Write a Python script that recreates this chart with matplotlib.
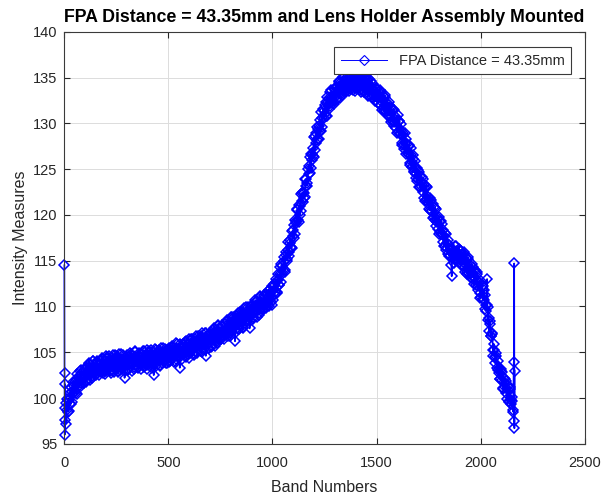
import numpy as np
import matplotlib
matplotlib.use("Agg")
import matplotlib.pyplot as plt

plt.rcParams['font.family'] = ['Liberation Sans', 'DejaVu Sans']
plt.rcParams['path.simplify'] = False

# first few bands (spikes at the start of the sweep)
x_start = [1, 2, 3, 4]
y_start = [114.5, 102.7, 96.0, 101.5]

# bands 5, 10, ..., 2155
x_a = list(range(5, 2156, 5))
y_a = [
    98.9, 97.2, 99.9, 98.5, 99.8, 99.3, 101.2, 99.6, 101.3, 100.8,
    102.0, 100.4, 101.9, 101.1, 102.9, 101.6, 102.4, 101.6, 103.1, 102.3,
    101.8, 103.3, 102.7, 103.7, 102.0, 103.3, 102.4, 104.0, 102.7, 103.3,
    102.5, 103.9, 103.0, 104.1, 103.0, 104.3, 102.7, 103.7, 102.9, 104.6,
    104.3, 103.2, 104.6, 102.9, 103.9, 103.1, 104.7, 102.8, 104.3, 103.6,
    104.6, 102.8, 104.1, 103.1, 104.8, 103.4, 104.0, 102.2, 104.5, 103.6,
    103.1, 104.5, 103.8, 104.8, 103.0, 104.3, 103.4, 105.0, 103.6, 104.2,
    103.3, 104.7, 103.8, 104.8, 103.8, 105.1, 103.4, 104.4, 103.6, 105.2,
    104.9, 103.8, 105.2, 103.5, 104.5, 102.5, 105.4, 103.5, 104.9, 104.2,
    105.3, 103.5, 104.8, 103.8, 105.5, 104.1, 104.7, 103.8, 105.3, 104.4,
    103.9, 105.3, 104.6, 105.6, 103.9, 105.2, 104.3, 105.9, 104.5, 105.1,
    103.3, 105.7, 104.9, 105.9, 104.8, 106.1, 104.5, 105.5, 104.8, 106.4,
    106.2, 105.1, 106.5, 104.8, 105.9, 105.1, 106.8, 104.9, 106.4, 105.7,
    106.8, 105.0, 106.4, 105.4, 107.1, 104.6, 106.4, 105.5, 107.0, 106.1,
    105.6, 107.0, 106.4, 107.5, 105.7, 107.1, 106.2, 107.9, 106.5, 107.2,
    106.4, 107.8, 107.0, 108.1, 107.1, 108.4, 106.8, 107.9, 107.1, 108.8,
    108.6, 107.6, 108.9, 106.2, 108.4, 107.7, 109.3, 107.5, 109.0, 108.4,
    109.4, 107.7, 109.1, 108.2, 109.9, 108.6, 109.2, 107.6, 109.9, 109.1,
    108.6, 110.1, 109.5, 110.6, 108.9, 110.3, 109.3, 111.0, 109.7, 110.4,
    109.6, 111.1, 110.3, 111.4, 110.3, 111.7, 110.1, 111.2, 110.5, 112.2,
    112.2, 111.4, 113.0, 111.6, 112.9, 112.4, 114.3, 112.7, 114.4, 114.0,
    115.4, 114.0, 115.6, 115.0, 117.0, 116.0, 116.9, 116.4, 118.2, 117.7,
    117.5, 119.4, 119.1, 120.6, 119.2, 121.0, 120.4, 122.4, 121.4, 122.4,
    122.0, 123.9, 123.5, 125.0, 124.5, 126.3, 125.1, 126.7, 126.4, 128.5,
    128.6, 127.9, 129.6, 128.3, 129.7, 129.2, 131.2, 129.6, 131.4, 131.0,
    132.3, 130.8, 132.3, 131.6, 133.4, 132.2, 132.9, 132.2, 133.7, 132.9,
    132.5, 134.0, 133.4, 134.5, 132.8, 134.2, 133.3, 135.0, 133.6, 134.3,
    133.4, 134.9, 134.0, 135.1, 134.0, 135.3, 133.6, 134.7, 133.9, 135.5,
    135.2, 134.1, 135.4, 133.6, 134.6, 133.8, 135.3, 133.4, 134.8, 134.0,
    134.9, 133.0, 134.2, 133.1, 134.6, 133.1, 133.6, 132.6, 133.9, 132.9,
    132.2, 133.4, 132.6, 133.4, 131.5, 132.6, 131.5, 132.9, 131.4, 131.8,
    130.8, 132.0, 130.9, 131.7, 130.4, 131.6, 129.7, 130.5, 129.5, 130.9,
    130.3, 128.9, 129.9, 127.9, 128.7, 127.6, 128.9, 126.7, 127.8, 126.8,
    127.6, 125.5, 126.5, 125.2, 126.5, 124.8, 125.1, 124.0, 125.1, 123.9,
    123.0, 124.2, 123.2, 123.9, 121.9, 122.9, 121.6, 123.0, 121.3, 121.6,
    120.5, 121.6, 120.4, 121.2, 119.8, 120.8, 118.8, 119.6, 118.5, 119.8,
    119.3, 117.9, 119.0, 117.0, 117.7, 116.6, 117.9, 115.7, 116.7, 115.6,
    116.3, 113.3, 115.7, 114.8, 116.6, 115.3, 115.9, 115.0, 116.3, 115.2,
    114.5, 115.7, 114.9, 115.7, 113.8, 114.9, 113.8, 115.2, 113.7, 114.1,
    113.1, 114.3, 113.2, 114.0, 112.7, 113.8, 111.8, 112.6, 111.5, 112.8,
    112.2, 110.8, 111.8, 109.7, 110.2, 113.0, 109.9, 107.3, 108.1, 106.8,
    107.1, 104.6, 105.3, 103.8, 104.9, 103.1, 103.3, 102.1, 103.2, 102.0,
    101.1, 102.2, 101.2, 101.9, 99.9, 100.9, 99.7, 101.0, 99.4, 99.7,
    98.5,
]

# bands 3, 8, ..., 2153
x_b = list(range(3, 2154, 5))
y_b = [
    97.6, 99.5, 98.7, 99.8, 98.6, 100.6, 99.4, 100.7, 101.7, 100.5,
    101.8, 100.5, 102.6, 101.6, 102.4, 101.4, 103.1, 102.0, 101.6, 103.2,
    103.4, 102.0, 103.1, 103.8, 102.5, 103.6, 102.2, 104.1, 103.0, 103.6,
    102.6, 104.1, 102.9, 102.5, 104.0, 102.8, 104.4, 103.2, 104.0, 102.6,
    103.0, 104.5, 103.4, 104.2, 102.7, 104.4, 102.9, 103.9, 104.7, 103.3,
    104.4, 102.9, 104.8, 103.6, 104.3, 103.2, 104.7, 103.5, 103.0, 104.5,
    104.7, 103.2, 104.2, 104.9, 103.5, 104.6, 103.2, 105.1, 103.9, 104.5,
    103.4, 104.9, 103.7, 103.2, 104.8, 103.6, 105.1, 103.9, 104.7, 103.2,
    103.6, 105.1, 104.0, 104.8, 103.3, 105.0, 103.6, 104.6, 105.3, 103.9,
    105.1, 103.6, 105.5, 104.3, 105.0, 103.9, 105.4, 104.2, 103.8, 105.3,
    105.5, 104.0, 105.0, 105.7, 104.4, 105.5, 104.1, 106.0, 104.8, 105.4,
    104.4, 105.9, 104.8, 104.3, 105.8, 104.6, 106.2, 105.0, 105.9, 104.4,
    104.9, 106.4, 105.3, 106.1, 104.7, 106.4, 105.0, 106.0, 106.8, 105.4,
    106.6, 105.1, 107.1, 105.9, 106.6, 105.5, 107.1, 105.9, 105.5, 107.0,
    107.2, 105.7, 106.8, 107.6, 106.2, 107.4, 106.0, 108.0, 106.8, 107.5,
    106.5, 108.0, 106.9, 106.5, 108.1, 106.9, 108.5, 107.4, 108.2, 106.8,
    107.3, 108.9, 107.7, 108.6, 107.2, 109.0, 107.5, 108.6, 109.4, 108.1,
    109.2, 107.8, 109.8, 108.7, 109.4, 108.4, 109.9, 108.8, 108.4, 110.0,
    110.2, 108.8, 109.9, 110.7, 109.4, 110.6, 109.1, 111.1, 110.0, 110.7,
    109.7, 111.3, 110.2, 109.8, 111.3, 110.2, 111.8, 110.7, 111.6, 110.2,
    110.7, 112.5, 111.6, 112.7, 111.5, 113.5, 112.3, 113.6, 114.6, 113.5,
    115.0, 113.8, 116.0, 115.2, 116.2, 115.5, 117.3, 116.5, 116.4, 118.3,
    118.9, 117.9, 119.3, 120.5, 119.5, 121.1, 120.0, 122.3, 121.5, 122.5,
    121.9, 123.9, 123.2, 123.2, 125.3, 124.6, 126.6, 126.0, 127.3, 126.3,
    127.1, 129.0, 128.2, 129.4, 128.3, 130.4, 129.2, 130.6, 131.6, 130.6,
    132.0, 130.8, 132.9, 132.0, 132.8, 131.9, 133.6, 132.5, 132.1, 133.8,
    134.0, 132.7, 133.8, 134.6, 133.3, 134.5, 133.1, 135.1, 133.9, 134.6,
    133.5, 135.1, 133.9, 133.5, 135.0, 133.8, 135.3, 134.2, 135.0, 133.5,
    133.9, 135.4, 134.2, 134.9, 133.4, 135.1, 133.5, 134.5, 135.2, 133.7,
    134.7, 133.1, 134.9, 133.6, 134.1, 132.9, 134.3, 133.0, 132.4, 133.8,
    133.8, 132.2, 133.0, 133.6, 132.0, 133.0, 131.3, 133.1, 131.7, 132.2,
    130.9, 132.3, 130.9, 130.2, 131.5, 130.2, 131.5, 130.1, 130.7, 129.0,
    129.1, 130.3, 128.8, 129.3, 127.6, 129.0, 127.2, 127.9, 128.3, 126.6,
    127.5, 125.7, 127.3, 125.8, 126.1, 124.7, 125.9, 124.5, 123.7, 124.9,
    124.7, 123.0, 123.7, 124.1, 122.5, 123.3, 121.5, 123.2, 121.7, 122.0,
    120.7, 121.9, 120.4, 119.7, 120.9, 119.4, 120.6, 119.2, 119.7, 117.9,
    118.1, 119.3, 117.9, 118.4, 116.6, 118.0, 116.2, 116.9, 117.3, 115.5,
    116.2, 114.5, 116.3, 115.3, 116.0, 115.1, 116.6, 115.4, 114.9, 116.2,
    116.1, 114.5, 115.3, 115.9, 114.3, 115.3, 113.6, 115.4, 114.0, 114.5,
    113.2, 114.6, 113.2, 112.5, 113.8, 112.4, 113.6, 112.2, 112.7, 110.9,
    111.0, 112.2, 110.7, 111.2, 109.5, 110.2, 108.5, 108.7, 108.4, 106.8,
    107.0, 105.3, 105.9, 104.5, 104.6, 103.3, 104.0, 102.7, 102.1, 102.9,
    102.8, 101.0, 101.7, 102.1, 100.5, 101.3, 99.6, 101.2, 99.8, 100.1,
    98.7,
]

# last few bands (spikes at the end of the sweep)
x_end = [2158, 2159, 2160, 2161, 2162]
y_end = [103.9, 97.5, 114.7, 96.7, 103.0]

band = np.array(x_start + x_a + x_b + x_end)
intensity = np.array(y_start + y_a + y_b + y_end)
order = np.argsort(band, kind='stable')
band = band[order]
intensity = intensity[order]

axc = '#262626'

fig = plt.figure(figsize=(6.05, 4.97), dpi=100)
ax = fig.add_axes([0.106, 0.107, 0.861, 0.829])

ax.plot(band, intensity, color='#0000ff', lw=1.2, marker='D', ms=5.4,
        mfc='none', mew=1.1, label='FPA Distance = 43.35mm', clip_on=False)

ax.set_xlim(0, 2500)
ax.set_ylim(95, 140)
ax.set_xticks(np.arange(0, 2501, 500))
ax.set_yticks(np.arange(95, 141, 5))
ax.grid(True, color='#dcdcdc', lw=0.7)
ax.set_axisbelow(True)
ax.tick_params(direction='in', top=True, right=True, length=4,
               labelsize=10.5, colors=axc, width=0.8)
ax.tick_params(axis='x', pad=9)
ax.tick_params(axis='y', pad=5)
for s in ax.spines.values():
    s.set_color('#3a3a3a')
    s.set_linewidth(0.8)

ax.set_xlabel('Band Numbers', fontsize=11.5, color=axc, labelpad=7)
ax.set_ylabel('Intensity Measures', fontsize=11.5, color=axc, labelpad=3)
ax.set_title('FPA Distance = 43.35mm and Lens Holder Assembly Mounted',
             fontsize=12.8, fontweight='bold', color='black', pad=7)

leg = ax.legend(loc='upper right', bbox_to_anchor=(0.973, 0.963),
                borderaxespad=0, fontsize=10.5, handlelength=3.15,
                borderpad=0.45, fancybox=False, framealpha=1,
                edgecolor='#3a3a3a')
leg.get_frame().set_linewidth(0.8)
leg.set_zorder(5)
for ln in leg.get_lines():
    ln.set_linewidth(0.7)
    ln.set_markeredgewidth(0.8)
for t in leg.get_texts():
    t.set_color(axc)

fig.savefig('out.png', dpi=100, facecolor='white')
